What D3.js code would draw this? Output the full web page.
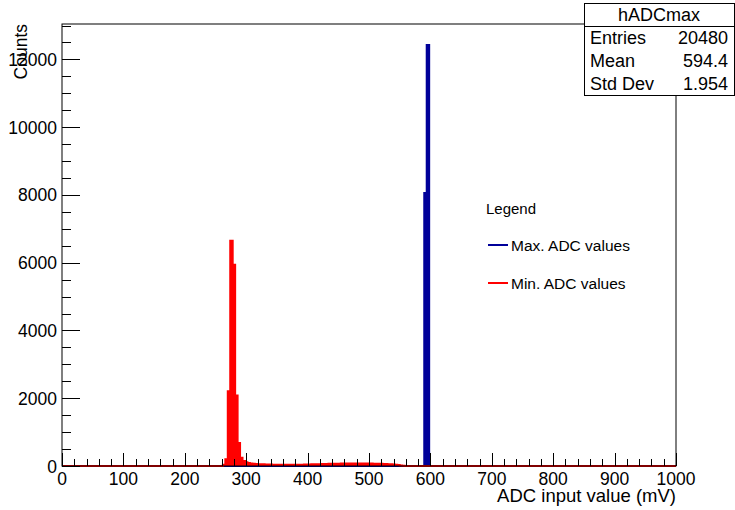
<!DOCTYPE html>
<html>
<head>
<meta charset="utf-8">
<script src="https://cdn.jsdelivr.net/npm/d3@7"></script>
<style>
  html, body { margin: 0; padding: 0; background: #fff; }
  svg { display: block; font-family: "Liberation Sans", Arial, Helvetica, sans-serif; }
</style>
</head>
<body>
<svg id="chart" width="735" height="510"></svg>
<script>
// ---- data (bin width 4 mV, bin low edges) ----
const binWidth = 4;
const maxBinLo = [590, 594];
const maxCounts = [8055, 12425];

const minBinLo = [262, 266, 270, 274, 278, 282, 286, 290, 294, 298,
  302, 306, 310, 314, 318, 322, 326, 330, 334, 338, 342, 346, 350, 354, 358, 362, 366, 370, 374, 378, 382, 386, 390, 394, 398,
  402, 406, 410, 414, 418, 422, 426, 430, 434, 438, 442, 446, 450, 454, 458, 462, 466, 470, 474, 478, 482, 486, 490, 494, 498,
  502, 506, 510, 514, 518, 522, 526, 530, 534, 538, 542, 546, 550, 554];
const minCounts = [40, 200, 2210, 6650, 5940, 2080, 680, 245, 150, 110,
  90, 75, 65, 60, 55, 50, 48, 45, 45, 42, 40, 40, 38, 38, 36, 36, 35, 35, 35, 36, 36, 38, 40, 42, 44,
  46, 48, 50, 52, 55, 58, 60, 62, 64, 66, 68, 70, 70, 72, 72, 74, 74, 75, 75, 76, 76, 76, 75, 75, 74,
  72, 70, 68, 66, 64, 60, 56, 52, 48, 42, 36, 28, 18, 8];

const xTicks = [0, 100, 200, 300, 400, 500, 600, 700, 800, 900, 1000];
const yTicks = [0, 2000, 4000, 6000, 8000, 10000, 12000];
const xTitle = "ADC input value (mV)";
const yTitle = "Counts";
const statsTitle = "hADCmax";
const statsNames = ["Entries", "Mean", "Std Dev"];
const statsValues = ["20480", "594.4", "1.954"];
const legendTitle = "Legend";
const legendLabels = ["Max. ADC values", "Min. ADC values"];
const legendColors = ["#00009a", "#ff0000"];

// ---- layout ----
const svg = d3.select("#chart");
const X0 = 62, X1 = 676, Y0 = 466, Y1 = 24;
const xDomain = [0, 1000];
const yMax = 13046;
const x = d3.scaleLinear().domain(xDomain).range([X0, X1]);
const y = d3.scaleLinear().domain([0, yMax]).range([Y0, Y1]);

svg.append("rect").attr("width", 735).attr("height", 510).attr("fill", "#fff");

// histogram outline builder
function histPoints(los, counts) {
  const pts = [[xDomain[0], 0]];
  los.forEach((lo, i) => pts.push([lo, counts[i]]));
  const lastHi = los[los.length - 1] + binWidth;
  pts.push([lastHi, 0]);
  pts.push([xDomain[1], 0]);
  return pts;
}
const area = d3.area().curve(d3.curveStepAfter)
  .x(d => x(d[0])).y0(y(0)).y1(d => y(d[1]));
const line = d3.line().curve(d3.curveStepAfter)
  .x(d => x(d[0])).y(d => y(d[1]));

const maxPts = histPoints(maxBinLo, maxCounts);
const minPts = histPoints(minBinLo, minCounts);

svg.append("path").datum(maxPts).attr("d", area).attr("fill", legendColors[0]);
svg.append("path").datum(maxPts).attr("d", line).attr("fill", "none")
  .attr("stroke", legendColors[0]).attr("stroke-width", 2);
svg.append("path").datum(minPts).attr("d", area).attr("fill", legendColors[1]);
svg.append("path").datum(minPts).attr("d", line).attr("fill", "none")
  .attr("stroke", legendColors[1]).attr("stroke-width", 2);

// frame
svg.append("rect").attr("x", X0).attr("y", Y1).attr("width", X1 - X0).attr("height", Y0 - Y1)
  .attr("fill", "none").attr("stroke", "#000").attr("stroke-width", 1);

// x ticks
const xMinor = d3.range(0, 1001, 20).filter(v => v % 100 !== 0);
const gx = svg.append("g");
gx.selectAll("line.maj").data(xTicks).enter().append("line")
  .attr("x1", d => Math.round(x(d)) + 0.5).attr("x2", d => Math.round(x(d)) + 0.5)
  .attr("y1", Y0).attr("y2", Y0 - 13).attr("stroke", "#000").attr("stroke-width", 1);
gx.selectAll("line.min").data(xMinor).enter().append("line")
  .attr("x1", d => Math.round(x(d)) + 0.5).attr("x2", d => Math.round(x(d)) + 0.5)
  .attr("y1", Y0).attr("y2", Y0 - 7).attr("stroke", "#000").attr("stroke-width", 1);
gx.selectAll("text").data(xTicks).enter().append("text")
  .attr("x", d => x(d)).attr("y", 485).attr("text-anchor", "middle")
  .attr("font-size", 17.5).text(d => d);

// y ticks
const yMinor = d3.range(0, yMax, 500).filter(v => v % 2000 !== 0);
const gy = svg.append("g");
gy.selectAll("line.maj").data(yTicks).enter().append("line")
  .attr("y1", d => Math.round(y(d)) + 0.5).attr("y2", d => Math.round(y(d)) + 0.5)
  .attr("x1", X0).attr("x2", X0 + 18).attr("stroke", "#000").attr("stroke-width", 1);
gy.selectAll("line.min").data(yMinor).enter().append("line")
  .attr("y1", d => Math.round(y(d)) + 0.5).attr("y2", d => Math.round(y(d)) + 0.5)
  .attr("x1", X0).attr("x2", X0 + 9).attr("stroke", "#000").attr("stroke-width", 1);
gy.selectAll("text").data(yTicks).enter().append("text")
  .attr("x", 57).attr("y", d => y(d) + 6.5).attr("text-anchor", "end")
  .attr("font-size", 17.5).text(d => d);

// axis titles
svg.append("text").attr("x", X1).attr("y", 502).attr("text-anchor", "end")
  .attr("font-size", 18.5).text(xTitle);
svg.append("text").attr("transform", `translate(27,${Y1}) rotate(-90)`)
  .attr("text-anchor", "end").attr("font-size", 17.5).text(yTitle);

// stats box
const SB = { x0: 584, x1: 734, y0: 3, y1: 95 };
const rowH = (SB.y1 - SB.y0) / 4;
svg.append("rect").attr("x", SB.x0 + 0.5).attr("y", SB.y0 + 0.5)
  .attr("width", SB.x1 - SB.x0).attr("height", SB.y1 - SB.y0)
  .attr("fill", "#fff").attr("stroke", "#000").attr("stroke-width", 1);
svg.append("line").attr("x1", SB.x0).attr("x2", SB.x1)
  .attr("y1", SB.y0 + rowH + 0.5).attr("y2", SB.y0 + rowH + 0.5).attr("stroke", "#000");
svg.append("text").attr("x", (SB.x0 + SB.x1) / 2).attr("y", SB.y0 + rowH / 2 + 6.5)
  .attr("text-anchor", "middle").attr("font-size", 18).text(statsTitle);
statsNames.forEach((n, i) => {
  const cy = SB.y0 + rowH * (i + 1.5) + 6.5;
  svg.append("text").attr("x", SB.x0 + 6).attr("y", cy).attr("font-size", 18).text(n);
  svg.append("text").attr("x", SB.x1 - 6).attr("y", cy).attr("text-anchor", "end")
    .attr("font-size", 18).text(statsValues[i]);
});

// legend
svg.append("text").attr("x", 486).attr("y", 214).attr("font-size", 15).text(legendTitle);
legendLabels.forEach((lab, i) => {
  const cy = 245 + i * 38;
  svg.append("line").attr("x1", 488).attr("x2", 508).attr("y1", cy).attr("y2", cy)
    .attr("stroke", legendColors[i]).attr("stroke-width", 2);
  svg.append("text").attr("x", 511).attr("y", cy + 5.5).attr("font-size", 15.5).text(lab);
});
</script>
</body>
</html>
